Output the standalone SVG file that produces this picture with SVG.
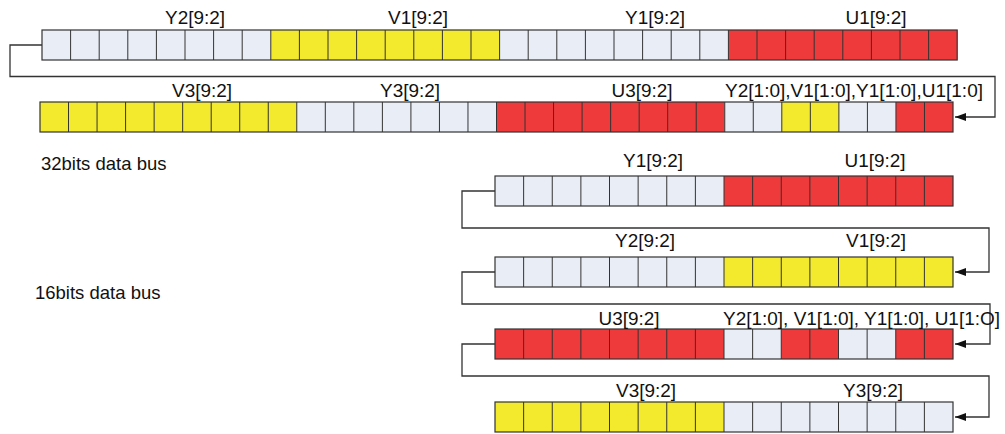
<svg xmlns="http://www.w3.org/2000/svg" width="1005" height="434" viewBox="0 0 1005 434">
<style>
.l{fill:#e9eef6}.y{fill:#f3ea2e}.r{fill:#ef3a3b}
.div{fill:none;stroke:#333;stroke-width:1}
.box{fill:none;stroke:#333;stroke-width:1.2}
.t{font-family:"Liberation Sans",Arial,Helvetica,sans-serif;font-size:18px;fill:#111}
.b{font-family:"Liberation Sans",Arial,Helvetica,sans-serif;font-size:18.5px;fill:#111}
.c{fill:none;stroke:#333;stroke-width:1.3}
</style>
<defs>
<marker id="arr" markerUnits="userSpaceOnUse" markerWidth="11" markerHeight="8" refX="11" refY="4" orient="auto"><path d="M0,0 L11,4 L0,8 z" fill="#111"/></marker>
<path id="d16" class="div" d="M523.63,0V30M552.25,0V30M580.88,0V30M609.5,0V30M638.13,0V30M666.75,0V30M695.38,0V30M724,0V30M752.63,0V30M781.25,0V30M809.88,0V30M838.5,0V30M867.13,0V30M895.75,0V30M924.38,0V30"/>
</defs>
<rect width="1005" height="434" fill="#fff"/>
<g id="connectors">
<path class="c" d="M42,45H10V76.5H995V117H955" marker-end="url(#arr)"/>
<path class="c" d="M495,191H462V228H989V272H955" marker-end="url(#arr)"/>
<path class="c" d="M495,272H462V304H990V344H955" marker-end="url(#arr)"/>
<path class="c" d="M495,344H462V376H989V417H955" marker-end="url(#arr)"/>
</g>
<g id="row32a">
<rect class="l" x="42" y="30" width="228.8" height="30"/>
<rect class="y" x="270.8" y="30" width="228.8" height="30"/>
<rect class="l" x="499.6" y="30" width="228.8" height="30"/>
<rect class="r" x="728.4" y="30" width="228.8" height="30"/>
<path class="div" d="M70.6,30V60M99.2,30V60M127.8,30V60M156.4,30V60M185,30V60M213.6,30V60M242.2,30V60M270.8,30V60M299.4,30V60M328,30V60M356.6,30V60M385.2,30V60M413.8,30V60M442.4,30V60M471,30V60M499.6,30V60M528.2,30V60M556.8,30V60M585.4,30V60M614,30V60M642.6,30V60M671.2,30V60M699.8,30V60M728.4,30V60M757,30V60M785.6,30V60M814.2,30V60M842.8,30V60M871.4,30V60M900,30V60M928.6,30V60"/>
<rect class="box" x="42" y="30" width="915.2" height="30"/>
<text class="t" x="195" y="24" text-anchor="middle" textLength="60" lengthAdjust="spacingAndGlyphs">Y2[9:2]</text>
<text class="t" x="418" y="24" text-anchor="middle" textLength="60" lengthAdjust="spacingAndGlyphs">V1[9:2]</text>
<text class="t" x="655" y="24" text-anchor="middle" textLength="60" lengthAdjust="spacingAndGlyphs">Y1[9:2]</text>
<text class="t" x="876" y="24" text-anchor="middle" textLength="61" lengthAdjust="spacingAndGlyphs">U1[9:2]</text>
</g>
<g id="row32b">
<rect class="y" x="40" y="102" width="256.78" height="30"/>
<rect class="l" x="296.78" y="102" width="199.72" height="30"/>
<rect class="r" x="496.5" y="102" width="228.25" height="30"/>
<rect class="l" x="724.75" y="102" width="57.06" height="30"/>
<rect class="y" x="781.81" y="102" width="57.07" height="30"/>
<rect class="l" x="838.88" y="102" width="57.06" height="30"/>
<rect class="r" x="895.94" y="102" width="57.06" height="30"/>
<path class="div" d="M68.53,102V132M97.06,102V132M125.59,102V132M154.13,102V132M182.66,102V132M211.19,102V132M239.72,102V132M268.25,102V132M296.78,102V132M325.31,102V132M353.84,102V132M382.38,102V132M410.91,102V132M439.44,102V132M467.97,102V132M496.5,102V132M525.03,102V132M553.56,102V132M582.09,102V132M610.63,102V132M639.16,102V132M667.69,102V132M696.22,102V132M724.75,102V132M753.28,102V132M781.81,102V132M810.34,102V132M838.88,102V132M867.41,102V132M895.94,102V132M924.47,102V132"/>
<rect class="box" x="40" y="102" width="913" height="30"/>
<text class="t" x="202" y="97" text-anchor="middle" textLength="60" lengthAdjust="spacingAndGlyphs">V3[9:2]</text>
<text class="t" x="410" y="97" text-anchor="middle" textLength="60" lengthAdjust="spacingAndGlyphs">Y3[9:2]</text>
<text class="t" x="642" y="97" text-anchor="middle" textLength="61" lengthAdjust="spacingAndGlyphs">U3[9:2]</text>
<text class="t" x="725" y="97" textLength="258" lengthAdjust="spacingAndGlyphs">Y2[1:0],V1[1:0],Y1[1:0],U1[1:0]</text>
</g>
<text id="label32" class="b" x="41" y="170">32bits data bus</text>
<text id="label16" class="b" x="35" y="299">16bits data bus</text>
<g id="row16a">
<rect class="l" x="495" y="176" width="229" height="30"/>
<rect class="r" x="724" y="176" width="229" height="30"/>
<use href="#d16" y="176"/>
<rect class="box" x="495" y="176" width="458" height="30"/>
<text class="t" x="653" y="167" text-anchor="middle" textLength="60" lengthAdjust="spacingAndGlyphs">Y1[9:2]</text>
<text class="t" x="875" y="167" text-anchor="middle" textLength="61" lengthAdjust="spacingAndGlyphs">U1[9:2]</text>
</g>
<g id="row16b">
<rect class="l" x="495" y="257" width="229" height="30"/>
<rect class="y" x="724" y="257" width="229" height="30"/>
<use href="#d16" y="257"/>
<rect class="box" x="495" y="257" width="458" height="30"/>
<text class="t" x="645" y="247" text-anchor="middle" textLength="60" lengthAdjust="spacingAndGlyphs">Y2[9:2]</text>
<text class="t" x="876" y="247" text-anchor="middle" textLength="60" lengthAdjust="spacingAndGlyphs">V1[9:2]</text>
</g>
<g id="row16c">
<rect class="r" x="495" y="329" width="229" height="30"/>
<rect class="l" x="724" y="329" width="57.25" height="30"/>
<rect class="r" x="781.25" y="329" width="57.25" height="30"/>
<rect class="l" x="838.5" y="329" width="57.25" height="30"/>
<rect class="r" x="895.75" y="329" width="57.25" height="30"/>
<use href="#d16" y="329"/>
<rect class="box" x="495" y="329" width="458" height="30"/>
<text class="t" x="629" y="325" text-anchor="middle" textLength="61" lengthAdjust="spacingAndGlyphs">U3[9:2]</text>
<text class="t" x="723" y="325" textLength="277" lengthAdjust="spacingAndGlyphs">Y2[1:0], V1[1:0], Y1[1:0], U1[1:O]</text>
</g>
<g id="row16d">
<rect class="y" x="495" y="402" width="229" height="30"/>
<rect class="l" x="724" y="402" width="229" height="30"/>
<use href="#d16" y="402"/>
<rect class="box" x="495" y="402" width="458" height="30"/>
<text class="t" x="646" y="397" text-anchor="middle" textLength="60" lengthAdjust="spacingAndGlyphs">V3[9:2]</text>
<text class="t" x="873" y="397" text-anchor="middle" textLength="60" lengthAdjust="spacingAndGlyphs">Y3[9:2]</text>
</g>
</svg>
